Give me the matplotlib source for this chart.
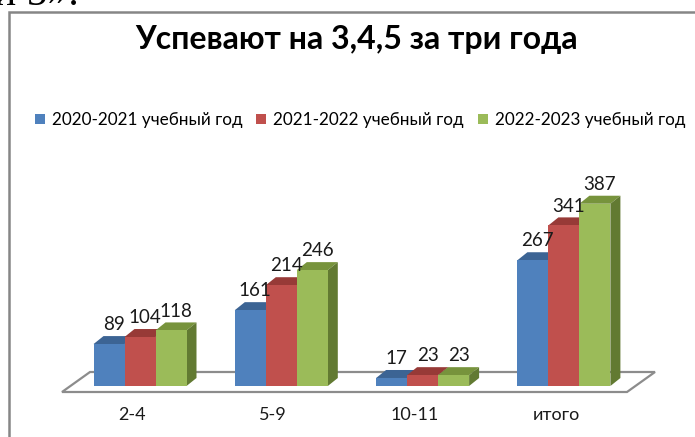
import matplotlib
matplotlib.use("Agg")
import matplotlib.pyplot as plt
from matplotlib.patches import Polygon, Rectangle

# data
categories = ["2-4", "5-9", "10-11", "итого"]
series = ["2020-2021 учебный год", "2021-2022 учебный год", "2022-2023 учебный год"]
values_2021 = [89, 161, 17, 267]
values_2122 = [104, 214, 23, 341]
values_2223 = [118, 246, 23, 387]
all_values = [values_2021, values_2122, values_2223]

front_colors = ["#4F81BD", "#C0504D", "#9BBB59"]
top_colors = ["#3C6494", "#973A37", "#77933C"]
side_colors = ["#385D8A", "#8A3633", "#627A32"]

W, H = 695, 437
fig = plt.figure(figsize=(W / 100, H / 100), dpi=100)
plt.rcParams["font.family"] = ["Lato", "DejaVu Sans"]

# axes over the whole figure, scale chosen so groups are ~141 px apart
ax = fig.add_axes([0, 0, 1, 1])
px_per_x = 141.3
px_per_y = 0.471
x_center0 = 140      # pixel x of first group centre
y_zero = 386         # pixel y (from top) of value 0
ax.set_xlim(-x_center0 / px_per_x, (W - x_center0) / px_per_x)
ax.set_ylim(-(H - y_zero) / px_per_y, y_zero / px_per_y)
ax.axis("off")

bar_w = 31 / px_per_x
dx = 10 / px_per_x
dy = 8 / px_per_y

# floor
fdx = 28 / px_per_x
fdy = 20 / px_per_y
fy = -6 / px_per_y
fx0 = (62 - x_center0) / px_per_x
fx1 = (627 - x_center0) / px_per_x
ax.add_patch(Polygon([(fx0, fy), (fx1, fy), (fx1 + fdx, fy + fdy), (fx0 + fdx, fy + fdy)],
                     closed=True, facecolor="white", edgecolor="#8C8C8C", lw=1.6, zorder=1))

handles = []
for i in range(len(categories)):
    for s, vals in enumerate(all_values):
        x0 = i + (s - 1.5) * bar_w
        x1 = x0 + bar_w
        h = vals[i]
        ax.add_patch(Polygon([(x0, h), (x1, h), (x1 + dx, h + dy), (x0 + dx, h + dy)],
                             closed=True, facecolor=top_colors[s], edgecolor="none", zorder=2 + s * 3))
        ax.add_patch(Polygon([(x1, 0), (x1 + dx, dy), (x1 + dx, h + dy), (x1, h)],
                             closed=True, facecolor=side_colors[s], edgecolor="none", zorder=3 + s * 3))
        b = ax.bar(x0, h, width=bar_w, align="edge", color=front_colors[s],
                   zorder=4 + s * 3, label=series[s])
        if i == 0:
            handles.append(b)
        ax.annotate(str(h), (x0 + bar_w / 2 + dx / 2, h + dy), xytext=(0, 2),
                    textcoords="offset points", ha="center", va="bottom",
                    fontsize=13.5, color="#1a1a1a", zorder=20)
    ax.text(i - 8 / px_per_x, -(415 - y_zero) / px_per_y, categories[i],
            ha="center", va="center", fontsize=13, color="#1a1a1a")

fig.text(357 / W, 1 - 40 / H, "Успевают на 3,4,5 за три года", ha="center", va="center",
         fontsize=23, fontweight="bold", color="black")

fig.legend(handles=handles, labels=series, loc="center", bbox_to_anchor=(360 / W, 1 - 120 / H),
           ncol=3, frameon=False, fontsize=12.3, handlelength=0.6, handleheight=0.6,
           handletextpad=0.4, columnspacing=0.8)

# chart border and clipped document text above it
fig.patches.append(Rectangle((8.5 / W, -0.1), 1.2, 1 - 11.5 / H + 0.1, transform=fig.transFigure,
                             facecolor="none", edgecolor="#868686", lw=1.8, figure=fig))
fig.text(-6 / W, 1 - 5 / H, "и 5».", ha="left", va="baseline", fontsize=30,
         family="Liberation Serif", color="black")

fig.savefig("out.png", dpi=100)
